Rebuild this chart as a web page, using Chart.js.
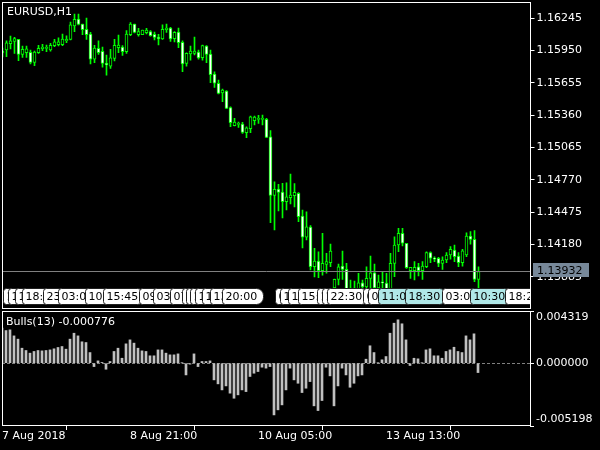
<!DOCTYPE html>
<html>
<head>
<meta charset="utf-8">
<title>EURUSD,H1 - Bulls(13)</title>
<script src="https://cdn.jsdelivr.net/npm/chart.js@4.4.1/dist/chart.umd.min.js"></script>
<style>
  html, body { margin: 0; padding: 0; background: #000; }
  #wrap { position: relative; width: 600px; height: 450px; overflow: hidden; background: #000; }
  #price { position: absolute; left: 0; top: 0; }
  #bulls { position: absolute; left: 0; top: 309px; }
</style>
</head>
<body>
<div id="wrap">
  <canvas id="price" width="600" height="311"></canvas>
  <canvas id="bulls" width="600" height="141"></canvas>
</div>
<script>
const FONT = '"DejaVu Sans", sans-serif';
Chart.defaults.font.family = FONT;
Chart.defaults.font.size = 11;
Chart.defaults.color = '#ffffff';

const symbol = 'EURUSD,H1';

// H1 candles, oldest first
const opens = [
  1.15928, 1.15956, 1.16013, 1.16035, 1.16053, 1.15916, 1.15931, 1.15934, 1.15843, 1.15931,
  1.15967, 1.15971, 1.15956, 1.15995, 1.16004, 1.16004, 1.16040, 1.16053, 1.16175, 1.16239,
  1.16193, 1.16145, 1.16102, 1.15873, 1.15971, 1.15944, 1.15834, 1.15809, 1.15880, 1.15977,
  1.15983, 1.15940, 1.16095, 1.16193, 1.16095, 1.16095, 1.16113, 1.16123, 1.16099, 1.16074,
  1.16056, 1.16141, 1.16156, 1.16059, 1.16120, 1.16026, 1.15834, 1.15919, 1.15925, 1.15937,
  1.15885, 1.15992, 1.15919, 1.15736, 1.15652, 1.15563, 1.15581, 1.15429, 1.15264, 1.15277,
  1.15280, 1.15200, 1.15237, 1.15310, 1.15323, 1.15323, 1.15323, 1.15164, 1.14629, 1.14686,
  1.14659, 1.14571, 1.14607, 1.14625, 1.14647, 1.14440, 1.14246, 1.14340, 1.13977, 1.14029,
  1.13941, 1.13999, 1.14014, 1.13783, 1.13862, 1.13983, 1.13953, 1.13764, 1.13783, 1.13764,
  1.13831, 1.13792, 1.13871, 1.13922, 1.13783, 1.13840, 1.13828, 1.13773, 1.14008, 1.14175,
  1.14282, 1.14191, 1.13941, 1.13941, 1.13977, 1.13941, 1.13977, 1.14105, 1.14054, 1.14054,
  1.14008, 1.14038, 1.14084, 1.14130, 1.14075, 1.14014, 1.14084, 1.14257, 1.14227, 1.13862
];
const highs = [
  1.15974, 1.16040, 1.16083, 1.16071, 1.16053, 1.15992, 1.15992, 1.15956, 1.15946, 1.15998,
  1.16008, 1.16001, 1.16017, 1.16053, 1.16068, 1.16102, 1.16086, 1.16211, 1.16284, 1.16284,
  1.16193, 1.16248, 1.16117, 1.15998, 1.16040, 1.15983, 1.15910, 1.15962, 1.16053, 1.16092,
  1.15995, 1.16132, 1.16205, 1.16193, 1.16154, 1.16138, 1.16154, 1.16132, 1.16120, 1.16099,
  1.16186, 1.16193, 1.16163, 1.16123, 1.16156, 1.16040, 1.15931, 1.15992, 1.16074, 1.15956,
  1.16001, 1.15995, 1.15956, 1.15757, 1.15682, 1.15599, 1.15586, 1.15438, 1.15332, 1.15298,
  1.15295, 1.15255, 1.15353, 1.15353, 1.15359, 1.15362, 1.15332, 1.15219, 1.14753, 1.14729,
  1.14739, 1.14744, 1.14823, 1.14737, 1.14653, 1.14495, 1.14479, 1.14353, 1.14145, 1.14114,
  1.14282, 1.14099, 1.14184, 1.13865, 1.14002, 1.14120, 1.14008, 1.13856, 1.13847, 1.13917,
  1.13856, 1.13977, 1.14075, 1.14002, 1.13901, 1.13931, 1.13917, 1.14099, 1.14251, 1.14328,
  1.14328, 1.14191, 1.13972, 1.14023, 1.14008, 1.14023, 1.14114, 1.14114, 1.14068, 1.14063,
  1.14068, 1.14105, 1.14160, 1.14175, 1.14105, 1.14136, 1.14287, 1.14297, 1.14306, 1.13977
];
const lows = [
  1.15892, 1.15894, 1.15965, 1.15925, 1.15858, 1.15889, 1.15889, 1.15828, 1.15812, 1.15925,
  1.15949, 1.15940, 1.15944, 1.15986, 1.15992, 1.15995, 1.16022, 1.16047, 1.16123, 1.16184,
  1.16095, 1.16053, 1.15828, 1.15840, 1.15916, 1.15798, 1.15727, 1.15788, 1.15855, 1.15931,
  1.15907, 1.15925, 1.16086, 1.16111, 1.16083, 1.16095, 1.16102, 1.16081, 1.16047, 1.16001,
  1.16053, 1.16117, 1.16035, 1.16029, 1.15977, 1.15757, 1.15809, 1.15864, 1.15910, 1.15871,
  1.15864, 1.15840, 1.15657, 1.15615, 1.15554, 1.15484, 1.15419, 1.15255, 1.15262, 1.15250,
  1.15195, 1.15155, 1.15200, 1.15271, 1.15286, 1.15271, 1.15155, 1.14379, 1.14312, 1.14486,
  1.14422, 1.14495, 1.14550, 1.14522, 1.14388, 1.14148, 1.14221, 1.13947, 1.13883, 1.13878,
  1.13901, 1.13917, 1.13977, 1.13746, 1.13810, 1.13862, 1.13728, 1.13709, 1.13719, 1.13728,
  1.13746, 1.13755, 1.13746, 1.13728, 1.13746, 1.13764, 1.13719, 1.13737, 1.13886, 1.14114,
  1.14166, 1.13962, 1.13871, 1.13856, 1.13892, 1.13862, 1.13968, 1.14014, 1.14023, 1.13977,
  1.13953, 1.14014, 1.14045, 1.14023, 1.13977, 1.13983, 1.14068, 1.14184, 1.13840, 1.13783
];
const closes = [
  1.15946, 1.16022, 1.16040, 1.16059, 1.15916, 1.15962, 1.15967, 1.15843, 1.15937, 1.15971,
  1.15983, 1.15978, 1.15998, 1.16031, 1.16031, 1.16056, 1.16053, 1.16186, 1.16236, 1.16190,
  1.16141, 1.16095, 1.15873, 1.15974, 1.15931, 1.15834, 1.15819, 1.15885, 1.15998, 1.16001,
  1.15940, 1.16102, 1.16193, 1.16117, 1.16123, 1.16138, 1.16138, 1.16086, 1.16071, 1.16056,
  1.16145, 1.16156, 1.16056, 1.16117, 1.16022, 1.15828, 1.15925, 1.15946, 1.15946, 1.15883,
  1.15995, 1.15916, 1.15730, 1.15652, 1.15560, 1.15590, 1.15423, 1.15292, 1.15298, 1.15280,
  1.15204, 1.15246, 1.15346, 1.15344, 1.15326, 1.15332, 1.15158, 1.14629, 1.14684, 1.14656,
  1.14571, 1.14616, 1.14632, 1.14656, 1.14434, 1.14246, 1.14342, 1.13977, 1.14029, 1.13941,
  1.14008, 1.14023, 1.14120, 1.13862, 1.13977, 1.13953, 1.13764, 1.13783, 1.13764, 1.13831,
  1.13792, 1.13871, 1.13922, 1.13783, 1.13840, 1.13828, 1.13773, 1.14008, 1.14175, 1.14282,
  1.14191, 1.13968, 1.13972, 1.13972, 1.13941, 1.13983, 1.14105, 1.14054, 1.14047, 1.14008,
  1.14038, 1.14084, 1.14136, 1.14068, 1.14014, 1.14123, 1.14257, 1.14227, 1.13862, 1.13932
];

// Bulls Power (13)
const bulls = [
  0.00290,
  0.00270, 0.00276, 0.00226, 0.00199, 0.00124, 0.00105, 0.00083, 0.00097, 0.00105, 0.00102,
  0.00105, 0.00110, 0.00119, 0.00130, 0.00138, 0.00116, 0.00199, 0.00248, 0.00226, 0.00177,
  0.00171, 0.00088, -0.00028, 0.00019, 0.00006, -0.00050, 0.00014, 0.00097, 0.00124, 0.00041,
  0.00160, 0.00193, 0.00166, 0.00124, 0.00102, 0.00097, 0.00061, 0.00061, 0.00110, 0.00110,
  0.00083, 0.00069, 0.00069, 0.00077, 0.00002, -0.00097, -0.00008, 0.00077, -0.00028, 0.00014,
  0.00014, 0.00019, -0.00138, -0.00171, -0.00221, -0.00188, -0.00248, -0.00290, -0.00262, -0.00221,
  -0.00235, -0.00110, -0.00083, -0.00069, -0.00033, -0.00041, -0.00028, -0.00428, -0.00386, -0.00345,
  -0.00221, -0.00041, -0.00138, -0.00166, -0.00243, -0.00207, -0.00152, -0.00353, -0.00392, -0.00309,
  -0.00033, -0.00105, -0.00353, -0.00188, -0.00041, -0.00097, -0.00199, -0.00166, -0.00105, -0.00097,
  0.00033, 0.00144, 0.00088, 0.00002, 0.00028, 0.00055, 0.00248, 0.00331, 0.00359, 0.00326,
  0.00193, -0.00019, 0.00041, 0.00036, 0.00001, 0.00110, 0.00119, 0.00061, 0.00061, 0.00041,
  0.00097, 0.00110, 0.00132, 0.00097, 0.00088, 0.00226, 0.00193, 0.00243, -0.000776
];

const priceRange = [1.13591, 1.16394];
const priceTicks = [1.13885, 1.14180, 1.14475, 1.14770, 1.15065, 1.15360, 1.15655, 1.15950, 1.16245];
const bullsTicks = [0.004319, 0, -0.005198];

const xTickIndex = [0, 32, 64, 96];
const xTickLabels = ['7 Aug 2018', '8 Aug 21:00', '10 Aug 05:00', '13 Aug 13:00'];
const slotCount = 133; // 120 bars + empty shift on the right

// time label objects sitting along the bottom of the price window
const stripAt = [0.1, 1.4, 3.1, 4.9, 10.1, 13.9, 20.6, 25.1, 34.1, 37.6, 41.9, 44.9, 45.9, 46.9,
  48.1, 49.9, 51.9, 54.9, 68.1, 69.4, 71.4, 73.9, 78.6, 79.9, 81.1, 90.1, 91.4, 93.9, 100.6,
  109.9, 116.9, 125.6];
const stripText = ['11:45', '12:30', '14:00', '18:00', '23:15', '03:00', '10:45', '15:45', '09:15',
  '03:15', '07:30', '08:15', '09:00', '10:00', '11:00', '12:15', '13:30', '20:00', '01:00', '10:15',
  '11:45', '15:15', '16:00', '17:30', '22:30', '00:00', '07:00', '11:00', '18:30', '03:00', '10:30',
  '18:25'];
const stripCyan = stripText.map((t, i) => i === 27 || i === 28 || i === 30);

const slots = Array.from({ length: slotCount }, (_, i) => String(i));
const wicks = lows.map((l, i) => [l, highs[i]]);
const bodies = opens.map((o, i) => [o, closes[i]]);
const bodyFill = opens.map((o, i) => closes[i] < o ? '#ffffff' : '#000000');
const lastClose = closes[closes.length - 1];

// keep the plot area where the layout padding puts it, labels may overhang
function noOverhang(s) {
  s.paddingTop = 0;
  s.paddingBottom = 0;
  s.paddingLeft = 0;
  s.paddingRight = 0;
}

const frame = {
  id: 'frame',
  afterDraw(chart) {
    const { ctx, chartArea: a } = chart;
    const l = Math.floor(a.left) + 0.5;
    const t = Math.floor(a.top) + 0.5;
    const r = Math.floor(a.right) + 0.5;
    const b = Math.ceil(a.bottom) - 0.5;
    ctx.save();
    ctx.strokeStyle = '#ffffff';
    ctx.lineWidth = 1;
    ctx.strokeRect(l, t, r - l, b - t);
    ctx.restore();
  }
};

const timeStrip = {
  id: 'timeStrip',
  afterDatasetsDraw(chart) {
    const { ctx, chartArea: a, scales: { x } } = chart;
    const top = Math.round(a.bottom) - 20.5;
    const h = 16;
    ctx.save();
    ctx.beginPath();
    ctx.rect(a.left, a.top, a.right - a.left, a.bottom - a.top);
    ctx.clip();
    ctx.font = '11px ' + FONT;
    ctx.textBaseline = 'middle';
    ctx.lineWidth = 1;
    stripAt.forEach((pos, k) => {
      const left = Math.round(x.getPixelForValue(pos)) + 0.5;
      const w = Math.ceil(ctx.measureText(stripText[k]).width) + 9;
      ctx.beginPath();
      ctx.roundRect(left, top, w, h, [3, 7, 7, 3]);
      ctx.fillStyle = stripCyan[k] ? '#b0e8e8' : '#ffffff';
      ctx.fill();
      ctx.strokeStyle = '#202020';
      ctx.stroke();
      ctx.fillStyle = '#000000';
      ctx.fillText(stripText[k], left + 3, top + h / 2 + 0.5);
    });
    ctx.restore();
  }
};

const bidLine = {
  id: 'bidLine',
  afterDatasetsDraw(chart) {
    const { ctx, chartArea: a, scales: { y } } = chart;
    const py = Math.floor(y.getPixelForValue(lastClose)) + 0.5;
    ctx.save();
    ctx.strokeStyle = '#808080';
    ctx.lineWidth = 1;
    ctx.beginPath();
    ctx.moveTo(a.left, py);
    ctx.lineTo(a.right, py);
    ctx.stroke();
    ctx.restore();
  },
  afterDraw(chart) {
    const { ctx, chartArea: a, scales: { y } } = chart;
    const py = Math.floor(y.getPixelForValue(lastClose));
    ctx.save();
    ctx.fillStyle = '#778899';
    ctx.fillRect(Math.round(a.right) + 2, py - 8, 56, 14);
    ctx.fillStyle = '#000000';
    ctx.font = '11px ' + FONT;
    ctx.textBaseline = 'middle';
    ctx.fillText(lastClose.toFixed(5), Math.round(a.right) + 6, py);
    // symbol caption
    ctx.fillStyle = '#ffffff';
    ctx.textBaseline = 'alphabetic';
    ctx.fillText(symbol, a.left + 4.5, a.top + 13);
    ctx.restore();
  }
};

const zeroLevel = {
  id: 'zeroLevel',
  beforeDatasetsDraw(chart) {
    const { ctx, chartArea: a, scales: { y } } = chart;
    const py = Math.floor(y.getPixelForValue(0)) + 0.5;
    ctx.save();
    ctx.strokeStyle = '#808080';
    ctx.lineWidth = 1;
    ctx.setLineDash([3, 2]);
    ctx.beginPath();
    ctx.moveTo(a.left, py);
    ctx.lineTo(a.right, py);
    ctx.stroke();
    ctx.restore();
  },
  afterDraw(chart) {
    const { ctx, chartArea: a } = chart;
    ctx.save();
    ctx.fillStyle = '#ffffff';
    ctx.font = '11px ' + FONT;
    ctx.fillText('Bulls(13) ' + bulls[bulls.length - 1].toFixed(6), a.left + 4, a.top + 14);
    ctx.restore();
  }
};

new Chart(document.getElementById('price'), {
  type: 'bar',
  data: {
    labels: slots,
    datasets: [
      {
        label: 'body',
        data: bodies,
        backgroundColor: bodyFill,
        borderColor: '#00ff00',
        borderWidth: 1,
        borderSkipped: false,
        barThickness: 3,
        minBarLength: 1,
        grouped: false,
        order: 0
      },
      {
        label: 'wick',
        data: wicks,
        backgroundColor: '#00ff00',
        barThickness: 1,
        grouped: false,
        order: 1
      }
    ]
  },
  options: {
    responsive: false,
    animation: false,
    layout: { padding: { left: 2.5, top: 2, right: 0, bottom: 2 } },
    plugins: { legend: { display: false }, tooltip: { enabled: false } },
    scales: {
      x: { display: false, offset: false },
      y: {
        position: 'right',
        min: priceRange[0],
        max: priceRange[1],
        afterFit: s => { s.width = 69.5; noOverhang(s); },
        afterBuildTicks: s => { s.ticks = priceTicks.map(v => ({ value: v })); },
        ticks: { padding: 2, color: '#ffffff', callback: v => v.toFixed(5) },
        grid: { drawOnChartArea: false, tickLength: 4, color: '#ffffff' },
        border: { display: false }
      }
    }
  },
  plugins: [timeStrip, bidLine, frame]
});

new Chart(document.getElementById('bulls'), {
  type: 'bar',
  data: {
    labels: slots,
    datasets: [{ label: 'Bulls(13)', data: bulls, backgroundColor: '#c0c0c0', barThickness: 2 }]
  },
  options: {
    responsive: false,
    animation: false,
    layout: { padding: { left: 2, top: 2, right: 0, bottom: 0 } },
    plugins: { legend: { display: false }, tooltip: { enabled: false } },
    scales: {
      x: {
        offset: false,
        afterFit: s => { s.height = 24; noOverhang(s); },
        afterBuildTicks: s => { s.ticks = xTickIndex.map(v => ({ value: v })); },
        ticks: {
          autoSkip: false,
          maxRotation: 0,
          align: 'start',
          padding: 0,
          color: '#ffffff',
          callback: v => xTickLabels[xTickIndex.indexOf(v)]
        },
        grid: { drawOnChartArea: false, tickLength: 4, color: '#ffffff' },
        border: { display: false }
      },
      y: {
        position: 'right',
        min: bullsTicks[2],
        max: bullsTicks[0],
        afterFit: s => { s.width = 70; noOverhang(s); },
        afterBuildTicks: s => { s.ticks = bullsTicks.map(v => ({ value: v })); },
        ticks: {
          padding: 2,
          color: '#ffffff',
          callback: v => {
            const t = v.toFixed(6);
            if (v === bullsTicks[0]) return ['', t];
            if (v === bullsTicks[2]) return [t, ''];
            return t;
          }
        },
        grid: { drawOnChartArea: false, tickLength: 4, color: '#ffffff' },
        border: { display: false }
      }
    }
  },
  plugins: [zeroLevel, frame]
});
</script>
</body>
</html>
